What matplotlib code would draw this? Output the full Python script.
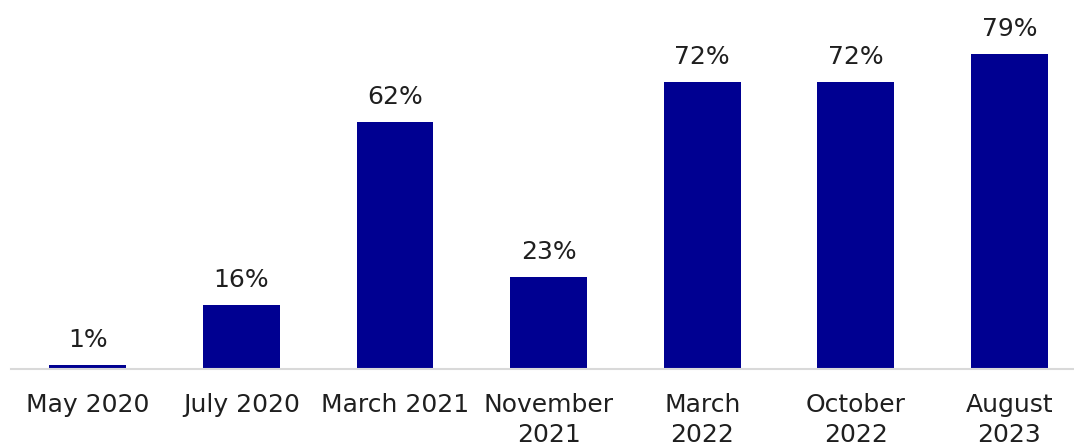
import matplotlib.pyplot as plt

labels = ["May 2020", "July 2020", "March 2021", "November\n2021",
          "March\n2022", "October\n2022", "August\n2023"]
values = [1, 16, 62, 23, 72, 72, 79]

plt.rcParams["font.family"] = ["DejaVu Sans"]

fig = plt.figure(figsize=(10.74, 4.48), dpi=100)
ax = fig.add_axes([11 / 1074, 79 / 448, 1 - 11 / 1074, 359 / 448])

x = range(len(values))
bars = ax.bar(x, values, width=0.5, color="#000091")
for rect, v in zip(bars, values):
    ax.annotate(f"{v}%", (rect.get_x() + rect.get_width() / 2, v),
                xytext=(0, 13), textcoords="offset points",
                ha="center", va="baseline", fontsize=18, color="#1f1f1f")

ax.set_xlim(-0.5, 6.42)
ax.set_ylim(0, 90)
ax.set_xticks(list(x))
ax.set_xticklabels(labels, fontsize=18, color="#1f1f1f", linespacing=1.35)
ax.tick_params(axis="x", length=0, pad=17)
ax.set_yticks([])
for side in ["top", "right", "left"]:
    ax.spines[side].set_visible(False)
ax.spines["bottom"].set_color("#d9d9d9")
ax.spines["bottom"].set_linewidth(1.5)

fig.savefig("out.png", dpi=100)
